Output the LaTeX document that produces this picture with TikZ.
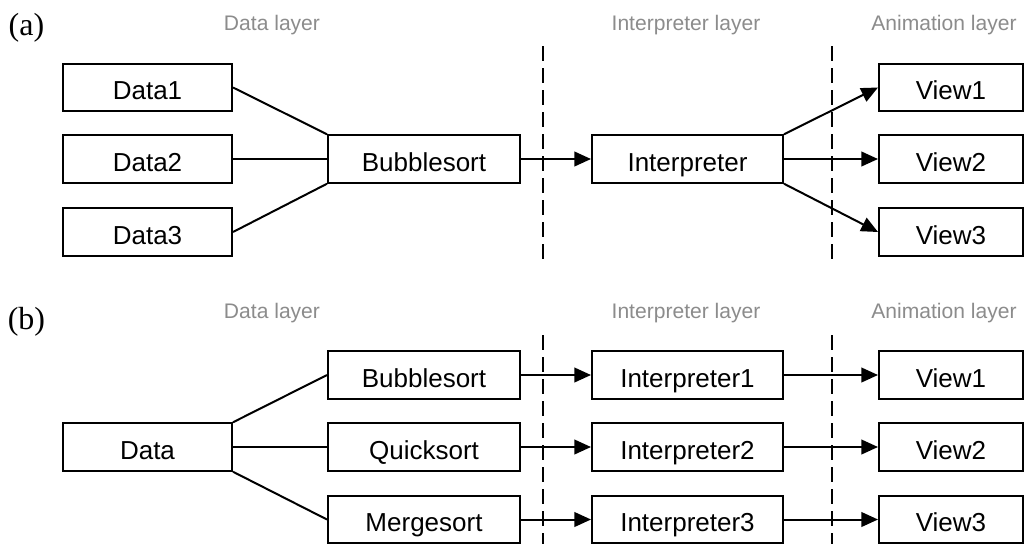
\documentclass[tikz,border=0pt]{standalone}
\usepackage{fontspec}
\setmainfont{Liberation Sans}
\newfontfamily\serifpanel{Liberation Serif}
\usetikzlibrary{arrows.meta}
\definecolor{layergray}{HTML}{8C8C8C}
\tikzset{
  box/.style={draw, line width=1.5pt, minimum height=35.6pt, inner sep=0pt,
    text height=18.5pt, text depth=0pt,
    font=\fontsize{19.5}{22}\selectfont},
  datab/.style={box, minimum width=126.75pt},
  sortb/.style={box, minimum width=144pt},
  interpb/.style={box, minimum width=143.25pt},
  viewb/.style={box, minimum width=108pt},
  link/.style={line width=1.5pt},
  flow/.style={line width=1.5pt, -{Triangle[length=12.5pt,width=11pt]}},
  divider/.style={line width=1.5pt, dash pattern=on 11.25pt off 5.25pt},
  layername/.style={text=layergray, font=\fontsize{15.8}{18}\selectfont},
  panel/.style={font=\serifpanel\fontsize{24}{28}\selectfont}
}
\begin{document}
\begin{tikzpicture}[x=0.75pt,y=-0.75pt]
\clip (0,0) rectangle (1024,543);
\fill[white] (0,0) rectangle (1024,543);

% ---------- (a) one algorithm, one interpreter, several views ----------
\node[panel] (pa) at (26.5,28) {(a)};
\node[layername] (la1) at (272,25) {Data layer};
\node[layername] (la2) at (686,25) {Interpreter layer};
\node[layername] (la3) at (944,25) {Animation layer};

\coordinate (da1t) at (543,46);  \coordinate (da1b) at (543,261);
\coordinate (da2t) at (832,46);  \coordinate (da2b) at (832,261);
\draw[divider] (da1t) -- (da1b);
\draw[divider] (da2t) -- (da2b);

\node[datab] (d1) at (147.5,87.5) {Data1};
\node[datab] (d2) at (147.5,159) {Data2};
\node[datab] (d3) at (147.5,232) {Data3};
\node[sortb] (bs) at (424,159) {Bubblesort};
\node[interpb] (ip) at (687.5,159) {Interpreter};
\node[viewb] (v1) at (951,87.5) {View1};
\node[viewb] (v2) at (951,159) {View2};
\node[viewb] (v3) at (951,232) {View3};

\draw[link] (d1.east) -- (bs.north west);
\draw[link] (d2.east) -- (bs.west);
\draw[link] (d3.east) -- (bs.south west);
\draw[flow] (bs.east) -- (ip.west);
\draw[flow] (ip.north east) -- (v1.west);
\draw[flow] (ip.east) -- (v2.west);
\draw[flow] (ip.south east) -- (v3.west);

% ---------- (b) one data set, several algorithms ----------
\node[panel] (pb) at (26.5,322) {(b)};
\node[layername] (lb1) at (272,313) {Data layer};
\node[layername] (lb2) at (686,313) {Interpreter layer};
\node[layername] (lb3) at (944,313) {Animation layer};

\coordinate (db1t) at (543,335);  \coordinate (db1b) at (543,545);
\coordinate (db2t) at (832,335);  \coordinate (db2b) at (832,545);
\draw[divider] (db1t) -- (db1b);
\draw[divider] (db2t) -- (db2b);

\node[datab] (dd) at (147.5,447) {Data};
\node[sortb] (s1) at (424,375) {Bubblesort};
\node[sortb] (s2) at (424,447) {Quicksort};
\node[sortb] (s3) at (424,519.5) {Mergesort};
\node[interpb] (i1) at (687.5,375) {Interpreter1};
\node[interpb] (i2) at (687.5,447) {Interpreter2};
\node[interpb] (i3) at (687.5,519.5) {Interpreter3};
\node[viewb] (w1) at (951,375) {View1};
\node[viewb] (w2) at (951,447) {View2};
\node[viewb] (w3) at (951,519.5) {View3};

\draw[link] (dd.north east) -- (s1.west);
\draw[link] (dd.east) -- (s2.west);
\draw[link] (dd.south east) -- (s3.west);
\draw[flow] (s1.east) -- (i1.west);
\draw[flow] (s2.east) -- (i2.west);
\draw[flow] (s3.east) -- (i3.west);
\draw[flow] (i1.east) -- (w1.west);
\draw[flow] (i2.east) -- (w2.west);
\draw[flow] (i3.east) -- (w3.west);
\end{tikzpicture}
\end{document}
